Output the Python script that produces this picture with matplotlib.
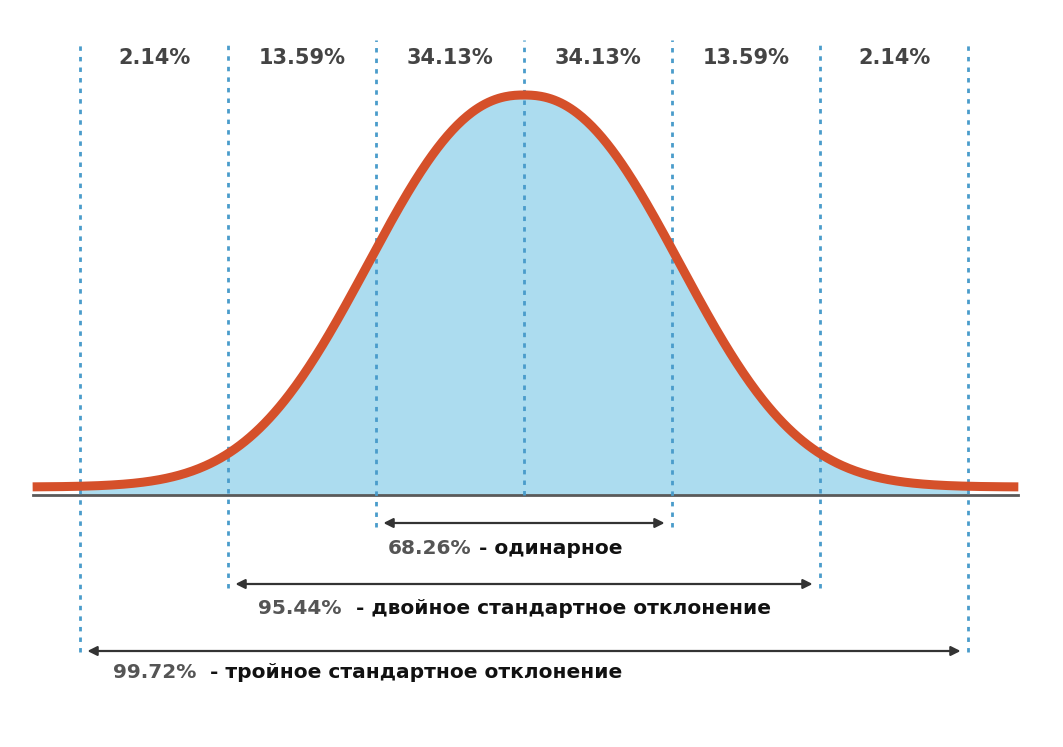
import numpy as np
import matplotlib.pyplot as plt

# data: sigma boundaries and band shares
sigmas = [-3, -2, -1, 0, 1, 2, 3]
band_pcts = ['2.14%', '13.59%', '34.13%', '34.13%', '13.59%', '2.14%']
band_mid = [-2.5, -1.5, -0.5, 0.5, 1.5, 2.5]
span_k = [1, 2, 3]
span_pct = ['68.26%', '95.44%', '99.72%']
span_txt = [' - одинарное', '  - двойное стандартное отклонение', '  - тройное стандартное отклонение']

W, H = 1063, 747
mu_px, sd_px = 524, 148
base = H - 495          # baseline in data units (pixels from bottom)
peak = 400

fig = plt.figure(figsize=(W / 100, H / 100), dpi=100)
ax = fig.add_axes([0, 0, 1, 1])
ax.set_xlim(-mu_px / sd_px, (W - mu_px) / sd_px)
ax.set_ylim(0, H)
ax.axis('off')

x = np.linspace(-3.32, 3.34, 600)
y = base + 8 + (peak - 8) * np.exp(-np.abs(x) ** 2.3 / 2)

m = (x >= -3) & (x <= 3)
ax.fill_between(x[m], base, y[m], color='#acdcef', zorder=1)
ax.plot([-3.32, 3.34], [base, base], color='#5a5a5a', lw=2, zorder=2)
ax.plot(x, y, color='#d5502a', lw=6.5, solid_capstyle='butt', zorder=4)

# dotted separators
bottoms = {0: base, 1: H - 527, 2: H - 588, 3: H - 652}
for s in sigmas:
    ax.plot([s, s], [bottoms[abs(s)], H - 40], color='#4a9ccb', lw=2,
            ls=(0, (1.6, 2.2)), zorder=3)

for xm, p in zip(band_mid, band_pcts):
    ax.text(xm, H - 58, p, ha='center', va='center', fontsize=15,
            fontweight='bold', color='#444444')

# arrows and labels
arrow_y = {1: H - 523, 2: H - 584, 3: H - 651}
text_y = {1: H - 548, 2: H - 609, 3: H - 673}
text_x = {1: 388, 2: 258, 3: 113}
for k, p, t in zip(span_k, span_pct, span_txt):
    ax.annotate('', xy=(k - 0.05, arrow_y[k]), xytext=(-k + 0.05, arrow_y[k]),
                arrowprops=dict(arrowstyle='<|-|>', color='#333333', lw=1.6,
                                mutation_scale=14, shrinkA=0, shrinkB=0))
    tx = (text_x[k] - mu_px) / sd_px
    a = ax.text(tx, text_y[k], p, ha='left', va='center', fontsize=14.5,
                fontweight='bold', color='#555555')
    ax.annotate(t, xycoords=a, xy=(1, 0.5), va='center', ha='left',
                fontsize=14.5, fontweight='bold', color='#111111')

fig.savefig('out.png', dpi=100, facecolor='white')
